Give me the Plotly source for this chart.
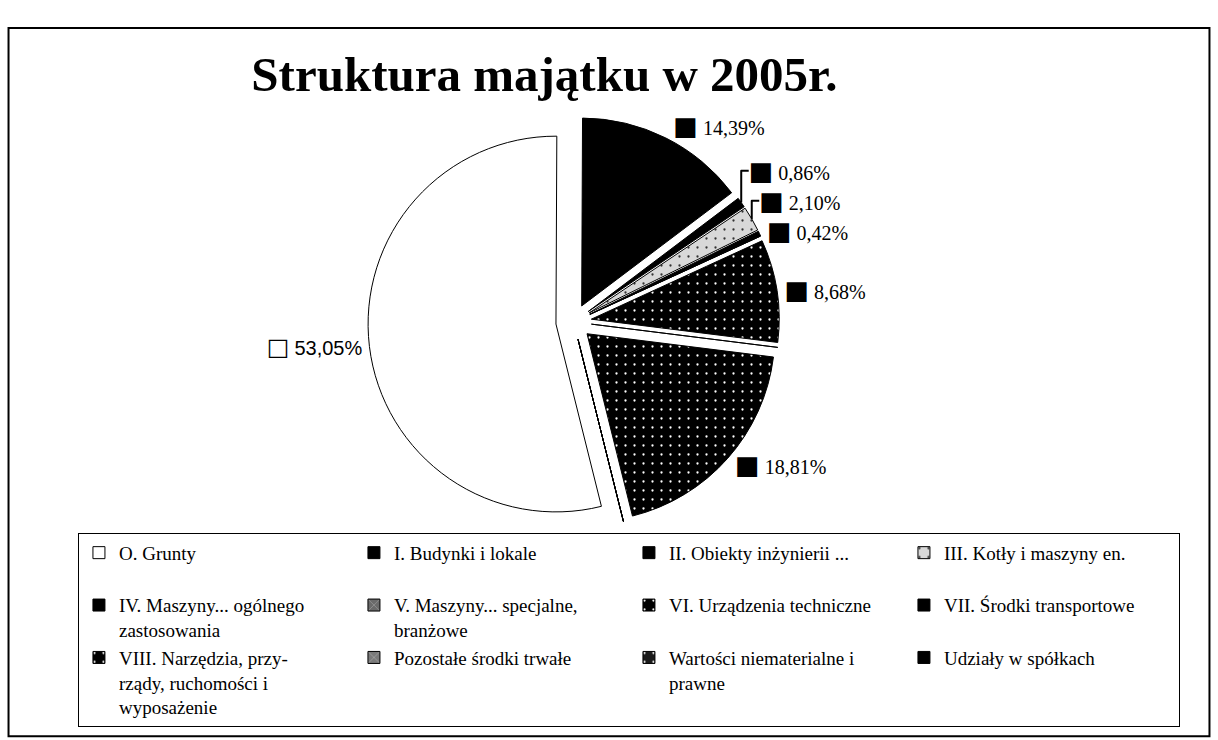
import plotly.graph_objects as go

categories = [
    "O. Grunty<br> ",
    "I. Budynki i lokale<br> ",
    "II. Obiekty inżynierii ...<br> ",
    "III. Kotły i maszyny en.<br> ",
    "IV. Maszyny... ogólnego<br>zastosowania",
    "V. Maszyny... specjalne,<br>branżowe",
    "VI. Urządzenia techniczne",
    "VII. Środki transportowe",
    "VIII. Narzędzia, przy-<br>rządy, ruchomości i<br>wyposażenie",
    "Pozostałe środki trwałe",
    "Wartości niematerialne i<br>prawne",
    "Udziały w spółkach",
]
values = [53.05, 14.39, 0.86, 2.10, 0.42, 0, 8.68, 0, 18.81, 0, 0, 0]
value_labels = ["53,05%", "14,39%", "0,86%", "2,10%", "0,42%", "", "8,68%", "", "18,81%", "", "", ""]

fills = ["white", "black", "black", "#d8d8d8", "black", "#6a6a6a", "black", "black",
         "black", "#7a7a7a", "#1a1a1a", "black"]
pat_shapes = ["", "", "", ".", "", "x", ".", "", ".", "x", ".", ""]
pat_fg = ["black", "white", "white", "#333333", "white", "white", "white", "white",
          "white", "white", "white", "white"]

texts = []
for i, lab in enumerate(value_labels):
    if lab == "":
        texts.append("")
    elif i == 0:
        texts.append("<span style='font-family:DejaVu Sans;font-size:24px'>□</span> "
                     "<span style='font-family:Liberation Sans'>" + lab + "</span>")
    else:
        texts.append("<span style='font-family:DejaVu Sans;font-size:26px'>■</span> " + lab)

fig = go.Figure()
fig.add_trace(go.Pie(
    labels=categories,
    values=values,
    text=texts,
    texttemplate="%{text}",
    textposition="outside",
    textfont=dict(family="Liberation Serif", size=20, color="black"),
    sort=False,
    direction="clockwise",
    rotation=166,
    pull=[0.095] * len(values),
    marker=dict(
        colors=fills,
        line=dict(color="black", width=1),
        pattern=dict(shape=pat_shapes, fgcolor=pat_fg, bgcolor=fills,
                     size=9, solidity=0.05),
    ),
    domain=dict(x=[0.286, 0.656], y=[0.287, 0.843]),
    showlegend=True,
    hoverinfo="label+value",
))

fig.update_layout(
    width=1218, height=740,
    paper_bgcolor="white", plot_bgcolor="white",
    margin=dict(l=0, r=0, t=0, b=0),
    title=dict(text="<b>Struktura majątku w 2005r.</b>", x=0.447, xanchor="center",
               y=0.9, yanchor="middle",
               font=dict(family="Liberation Serif", size=49, color="black")),
    legend=dict(
        orientation="h", x=0.064, y=0.28, xanchor="left", yanchor="top",
        font=dict(family="Liberation Serif", size=19, color="black"),
        entrywidth=230, entrywidthmode="pixels", valign="top",
        bgcolor="white", bordercolor="black", borderwidth=1,
        traceorder="normal",
    ),
    shapes=[
        dict(type="rect", xref="paper", yref="paper", x0=0.007, x1=0.993, y0=0.005, y1=0.962,
             line=dict(color="black", width=2)),
    ],
)

fig.write_html("out.html", config={"displayModeBar": False},
               post_script="document.body.style.margin='0px';")
